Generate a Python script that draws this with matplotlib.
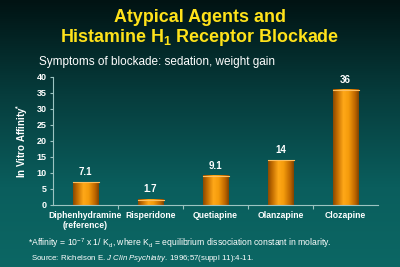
import numpy as np
import matplotlib
matplotlib.use("Agg")
import matplotlib.pyplot as plt
from matplotlib.colors import LinearSegmentedColormap

plt.rcParams["font.family"] = ["Liberation Sans", "DejaVu Sans"]
plt.rcParams["mathtext.fontset"] = "custom"
plt.rcParams["mathtext.rm"] = "Liberation Sans"
plt.rcParams["mathtext.it"] = "Liberation Sans:italic"
plt.rcParams["mathtext.bf"] = "Liberation Sans:bold"
plt.rcParams["mathtext.default"] = "regular"

# Data
drugs = ["Diphenhydramine\n(reference)", "Risperidone", "Quetiapine", "Olanzapine", "Clozapine"]
affinity = [7.1, 1.7, 9.1, 14, 36]
value_labels = ["7.1", "1.7", "9.1", "14", "36"]
y_ticks = [0, 5, 10, 15, 20, 25, 30, 35, 40]

W, H = 400, 267
fig = plt.figure(figsize=(W / 100, H / 100), dpi=100)

# Background: dark-to-teal vertical gradient
bg = fig.add_axes([0, 0, 1, 1])
bg_cmap = LinearSegmentedColormap.from_list(
    "bg", [(0.0, "#011313"), (0.35, "#063c3c"), (0.7, "#0a5e5d"), (1.0, "#0c6764")])
grad = np.linspace(0, 1, 256).reshape(-1, 1)
bg.imshow(grad, aspect="auto", cmap=bg_cmap, extent=[0, 1, 0, 1], origin="upper")
bg.set_axis_off()

# Plot area
ax = fig.add_axes([53 / W, 1 - 205 / H, 325 / W, 128 / H])
ax.patch.set_alpha(0)

x = np.arange(len(drugs))
bars = ax.bar(x, affinity, width=0.4, color="none", edgecolor="none", zorder=2)

# Cylinder-style shading for each bar
bar_cmap = LinearSegmentedColormap.from_list(
    "bar", [(0.0, "#8c4a00"), (0.15, "#c06a00"), (0.4, "#ffa818"),
            (0.6, "#f59c0c"), (0.85, "#c06800"), (1.0, "#844400")])
shade = np.linspace(0, 1, 64).reshape(1, -1)
for rect in bars:
    x0, y0 = rect.get_x(), rect.get_y()
    w, h = rect.get_width(), rect.get_height()
    ax.imshow(shade, cmap=bar_cmap, aspect="auto",
              extent=[x0, x0 + w, y0, y0 + h], zorder=2, interpolation="bilinear")
    ax.plot([x0, x0 + w], [y0 + h, y0 + h], color="#ffc060", lw=0.8, zorder=3)

for xi, v, lab in zip(x, affinity, value_labels):
    ax.text(xi, v + 1.6, lab, ha="center", va="bottom", color="white",
            fontsize=7, fontweight="bold")

ax.set_xlim(-0.5, len(drugs) - 0.5)
ax.set_ylim(0, 40)
ax.set_yticks(y_ticks)
ax.set_yticklabels([str(t) for t in y_ticks], color="white", fontsize=6.5, fontweight="bold")
ax.set_xticks(x)
ax.set_xticklabels(drugs, color="white", fontsize=6.2, fontweight="bold", linespacing=1.2)
ax.set_xticks(np.arange(0.5, len(drugs) - 0.5, 1.0), minor=True)
ax.tick_params(axis="x", which="major", length=0, pad=4)
ax.tick_params(axis="x", which="minor", length=3, color="#9cc4c2", width=0.8)
ax.tick_params(axis="y", which="major", length=2.5, color="#9cc4c2", width=0.8, pad=2)

for side in ("top", "right"):
    ax.spines[side].set_visible(False)
for side in ("left", "bottom"):
    ax.spines[side].set_color("#9cc4c2")
    ax.spines[side].set_linewidth(0.8)

ax.set_ylabel(r"In Vitro Affinity$^{*}$", color="white", fontsize=7, fontweight="bold",
              labelpad=5)

# Titles
fig.text(0.5, 1 - 18 / H, "Atypical Agents and", ha="center", va="center",
         color="#ffe21a", fontsize=12.9, fontweight="bold")
fig.text(0.5, 1 - 37 / H, r"Histamine $\mathbf{H_1}$ Receptor Blockade", ha="center", va="center",
         color="#ffe21a", fontsize=12.9, fontweight="bold")
fig.text(39 / W, 1 - 62 / H, "Symptoms of blockade: sedation, weight gain",
         ha="left", va="center", color="white", fontsize=8.5)

# Notes
fig.text(28 / W, 1 - 243 / H,
         r"*Affinity = 10$^{-7}$ x 1/ K$_d$, where K$_d$ = equilibrium dissociation constant in molarity.",
         ha="left", va="center", color="white", fontsize=6.2)
fig.text(31 / W, 1 - 258 / H,
         r"Source: Richelson E. $\mathit{J\ Clin\ Psychiatry}$. 1996;57(suppl 11):4-11.",
         ha="left", va="center", color="white", fontsize=5.7)

fig.savefig("out.png", dpi=100)
